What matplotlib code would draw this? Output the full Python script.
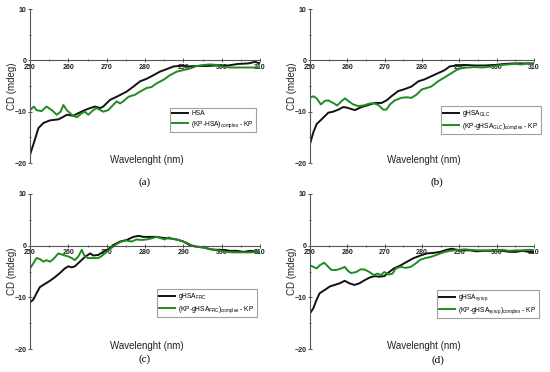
import matplotlib
matplotlib.use("Agg")
import matplotlib.pyplot as plt
from matplotlib.ticker import MultipleLocator

plt.rcParams['font.family'] = ['Liberation Sans', 'DejaVu Sans']

# panel (a)
hsa_x = [250, 251, 252.2, 253.5, 255.2, 257.4, 258.7, 259.6, 261.3, 262.6, 264.3, 265.7, 267, 268.3, 269.1,
         270.9, 272.6, 275.2, 277, 278.7, 280.4, 282.2, 283.9, 285.7, 287.4, 290, 291, 293.7, 296.3, 298.7,
         301.7, 304.3, 307, 308.7, 310]
hsa_y = [-18.4, -16.1, -13.2, -12.2, -11.7, -11.5, -11, -10.6, -10.8, -10.3, -9.7, -9.3, -9.0, -9.3, -9.0,
         -7.7, -7.1, -6.1, -5.1, -4.1, -3.6, -2.9, -2.2, -1.7, -1.2, -1.0, -1.2, -1.1, -1.1, -1.0,
         -1.0, -0.7, -0.6, -0.3, -0.6]
kp_hsa_x = [250, 251, 251.7, 253, 254.3, 255.7, 257, 258, 258.7, 259.6, 260.9, 262.2, 263.5, 264.3, 265.2,
            266.5, 267.4, 269.1, 270.4, 271.7, 272.6, 273.5, 274.3, 275.7, 277.4, 278.7, 280.4, 281.7, 283,
            284.8, 286.5, 288.3, 290, 291.7, 293.5, 295.2, 297, 298.7, 300, 302.2, 304.8, 307.4, 310]
kp_hsa_y = [-9.7, -9.0, -9.7, -9.9, -9.0, -9.7, -10.6, -10, -8.7, -9.7, -10.6, -11.1, -10.3, -10, -10.6,
            -9.7, -9.3, -10, -9.7, -8.7, -8.0, -8.4, -8.0, -7.1, -6.7, -6.1, -5.4, -5.2, -4.5,
            -3.8, -2.9, -2.2, -1.9, -1.6, -1.1, -0.9, -0.8, -0.9, -1.2, -1.4, -1.4, -1.4, -1.4]

# panel (b)
glc_x = [250, 250.9, 251.8, 253.1, 254.9, 256.2, 257.6, 258.9, 259.8, 262, 263.8, 265.6, 267.4, 269.2, 270.5,
         271.8, 273.6, 275.4, 277.2, 279, 280.7, 282.5, 284.3, 286.1, 287.4, 289.2, 291.4, 294.1, 296.8,
         299.5, 302.1, 304.8, 307.5, 310]
glc_y = [-16.3, -14, -12.4, -11.5, -10.2, -10, -9.6, -9.1, -9.2, -9.7, -9.1, -8.7, -8.3, -8.3, -7.8,
         -7.0, -6.0, -5.6, -5.1, -4.1, -3.7, -3.1, -2.5, -1.9, -1.2, -1.0, -0.9, -1.0, -1.0,
         -0.9, -0.7, -0.6, -0.6, -0.6]
kp_glc_x = [250, 250.9, 251.8, 252.9, 254, 254.9, 256.2, 257.3, 258.5, 259.4, 260.2, 261.6, 262.9, 264.3,
            265.6, 266.9, 268.3, 269.6, 270.5, 271.4, 272.7, 274.5, 275.8, 277.2, 278.5, 279.9, 281.2, 282.5,
            284.3, 286.1, 287.9, 289.2, 290.6, 292.3, 294.1, 295.9, 297.7, 299.5, 301.2, 303, 304.8, 306.6,
            308.4, 310]
kp_glc_y = [-7.3, -7.0, -7.4, -8.6, -7.9, -7.8, -8.3, -8.8, -7.9, -7.4, -7.9, -8.6, -8.9, -8.8,
            -8.5, -8.3, -8.7, -9.6, -9.6, -8.6, -7.8, -7.3, -7.2, -7.3, -6.7, -5.7, -5.4, -5.1,
            -4.1, -3.3, -2.5, -1.9, -1.5, -1.4, -1.3, -1.4, -1.3, -1.1, -0.9, -0.8, -0.7, -0.8,
            -0.6, -0.8]

# panel (c)
frc_x = [250, 250.9, 251.7, 252.6, 253.9, 255.2, 256.5, 257.8, 259.1, 260, 260.9, 261.7, 263, 264.3, 265.7,
         266.5, 267.8, 269.1, 270.4, 271.7, 273.5, 275.2, 277, 278.3, 279.6, 281.3, 283, 284.8, 286.5,
         288.3, 290, 291.7, 293.5, 295.2, 297, 298.7, 300.4, 302.2, 303.9, 305.7, 307.4, 310]
frc_y = [-11, -10.4, -9.2, -8.0, -7.4, -6.8, -6.1, -5.3, -4.4, -4.0, -4.2, -4.0, -3.1, -2.2, -1.5,
         -1.9, -1.8, -1.2, -0.7, 0.1, 0.8, 1.1, 1.7, 1.9, 1.7, 1.7, 1.7, 1.5, 1.4,
         1.2, 0.8, 0.1, -0.2, -0.3, -0.7, -0.8, -0.8, -1.0, -1.0, -1.2, -1.0, -1.2]
kp_frc_x = [250, 250.9, 251.7, 252.6, 253.5, 254.3, 255.2, 256.1, 257.4, 258.7, 260, 260.9, 261.7, 262.6,
            263.5, 264.3, 265.2, 266.5, 267.8, 268.7, 270, 271.3, 272.6, 273.9, 275.2, 276.5, 277.8, 279.1,
            280.4, 281.7, 283, 284.3, 285.2, 286.1, 287.4, 288.7, 290, 291.3, 292.6, 294.3, 296.1, 297.8,
            299.6, 301.3, 303, 304.8, 307.4, 310]
kp_frc_y = [-4.4, -3.4, -2.4, -2.6, -3.1, -2.8, -3.1, -2.6, -1.5, -1.8, -2.1, -2.4, -2.8, -2.1,
            -0.8, -2.1, -2.4, -2.4, -2.4, -2.0, -1.2, -0.4, 0.3, 0.8, 1.0, 0.8, 1.2, 1.1,
            1.2, 1.4, 1.7, 1.4, 1.2, 1.6, 1.3, 1.1, 0.8, 0.4, -0.1, -0.3, -0.5, -0.8,
            -1.0, -1.2, -1.3, -1.3, -1.3, -1.2]

# panel (d)
syr_x = [250, 250.9, 251.8, 252.6, 253.9, 255.3, 256.6, 257.9, 259.3, 260.6, 261.9, 263.2, 264.6, 265.9,
         267.2, 268.5, 269.9, 271.2, 272.5, 274.3, 276, 277.8, 279.6, 281.3, 283.1, 284.9, 286.6, 288,
         289.3, 291, 292.8, 294.6, 296.3, 298.1, 299.9, 301.6, 303.4, 305.2, 306.9, 308.7, 310]
syr_y = [-13.1, -12.1, -10.4, -9.2, -8.6, -7.9, -7.6, -7.3, -6.8, -7.3, -7.6, -7.3, -6.7, -6.2,
         -5.9, -6.0, -5.9, -5.1, -4.4, -3.8, -3.1, -2.4, -1.9, -1.5, -1.4, -1.2, -0.8, -0.6,
         -0.8, -0.9, -0.9, -1.1, -1.0, -1.0, -0.9, -1.0, -1.2, -1.2, -1.0, -1.2, -1.2]
kp_syr_x = [250, 250.9, 251.8, 252.6, 253.8, 254.9, 255.7, 257.1, 258.4, 259.3, 260.2, 261, 262.4, 263.5,
            264.6, 265.9, 267.1, 268.1, 269, 269.9, 271.1, 272.1, 273, 274.3, 275.6, 277, 278.2, 279.6,
            280.9, 282.2, 283.5, 284.9, 286.2, 287.5, 288.8, 290.1, 291.5, 292.8, 294.6, 296.3, 298.1,
            299.9, 301.6, 303.4, 305.2, 306.9, 308.7, 310]
kp_syr_y = [-3.8, -4.1, -4.4, -3.8, -3.3, -4.1, -4.7, -4.7, -4.4, -4.1, -4.9, -5.3, -5.1, -4.6,
            -4.6, -5.1, -5.7, -5.4, -5.7, -5.1, -5.6, -5.4, -4.4, -4.1, -4.3, -4.1, -3.5, -2.7,
            -2.4, -2.2, -1.9, -1.5, -1.2, -1.0, -0.9, -0.8, -0.7, -0.8, -0.9, -0.9, -0.9,
            -0.9, -0.8, -1.0, -0.9, -0.9, -0.8, -0.9]

xticks = [250, 260, 270, 280, 290, 300, 310]
yticks = [10, 0, -10, -20]

panels = [
    ([30, 9, 230, 154], hsa_x, hsa_y, kp_hsa_x, kp_hsa_y,
     'HSA', '(KP-HSA)$_{\\mathregular{complex}}$ - KP', (0.609, 0.357), '(a)', (145, 182)),
    ([310, 9, 224, 154], glc_x, glc_y, kp_glc_x, kp_glc_y,
     'gHSA$_{\\mathregular{GLC}}$', '(KP-gHSA$_{\\mathregular{GLC}}$)$_{\\mathregular{complex}}$ - KP',
     (0.585, 0.37), '(b)', (437, 182)),
    ([30, 194, 230, 155], frc_x, frc_y, kp_frc_x, kp_frc_y,
     'gHSA$_{\\mathregular{FRC}}$', '(KP-gHSA$_{\\mathregular{FRC}}$)$_{\\mathregular{complex}}$ - KP',
     (0.552, 0.387), '(c)', (145, 359)),
    ([310, 194, 224, 155], syr_x, syr_y, kp_syr_x, kp_syr_y,
     'gHSA$_{\\mathregular{syrup}}$', '(KP-gHSA$_{\\mathregular{syrup}}$)$_{\\mathregular{complex}}$ - KP',
     (0.567, 0.38), '(d)', (438, 360)),
]

W, H = 550, 372
fig = plt.figure(figsize=(W / 100, H / 100), dpi=100)

for box, x1, y1, x2, y2, lab1, lab2, legpos, cap, cappos in panels:
    l, t, w, h = box
    ax = fig.add_axes([l / W, 1 - (t + h) / H, w / W, h / H])
    ax.plot(x1, y1, color='#111111', lw=1.4, label=lab1)
    ax.plot(x2, y2, color='#1e8c1e', lw=1.4, label=lab2)
    ax.set_xlim(250, 310)
    ax.set_ylim(-20, 10)
    ax.spines['top'].set_visible(False)
    ax.spines['right'].set_visible(False)
    ax.spines['bottom'].set_position(('data', 0))
    for s in ('left', 'bottom'):
        ax.spines[s].set_linewidth(0.8)
        ax.spines[s].set_color('#555555')
    ax.set_xticks(xticks)
    ax.set_yticks(yticks)
    ax.xaxis.set_minor_locator(MultipleLocator(5))
    ax.yaxis.set_minor_locator(MultipleLocator(5))
    ax.tick_params(axis='both', which='major', labelsize=5, length=3, width=0.7,
                   direction='inout', color='#555555', pad=1)
    ax.tick_params(axis='both', which='minor', length=2, width=0.6,
                   direction='inout', color='#555555')
    for lbl in ax.get_xticklabels() + ax.get_yticklabels():
        lbl.set_fontweight('bold')
        lbl.set_color('#222222')
    ax.set_ylabel('CD (mdeg)', fontsize=7, color='#222222')
    ax.yaxis.set_label_coords(-0.058, 0.5)
    ax.text(0.51, 0.02, 'Wavelenght (nm)', transform=ax.transAxes,
            ha='center', va='center', fontsize=7, color='#222222')
    leg = ax.legend(loc='upper left', bbox_to_anchor=legpos, fontsize=4.8,
                    fancybox=False, handlelength=2.4, borderpad=0.35,
                    labelspacing=0.25, handletextpad=0.4, borderaxespad=0)
    leg.get_frame().set_edgecolor('#888888')
    leg.get_frame().set_linewidth(0.8)
    fig.text(cappos[0] / W, 1 - cappos[1] / H, cap, ha='center', va='center',
             fontsize=8, family='Liberation Serif')

fig.savefig('out.png', dpi=100)
